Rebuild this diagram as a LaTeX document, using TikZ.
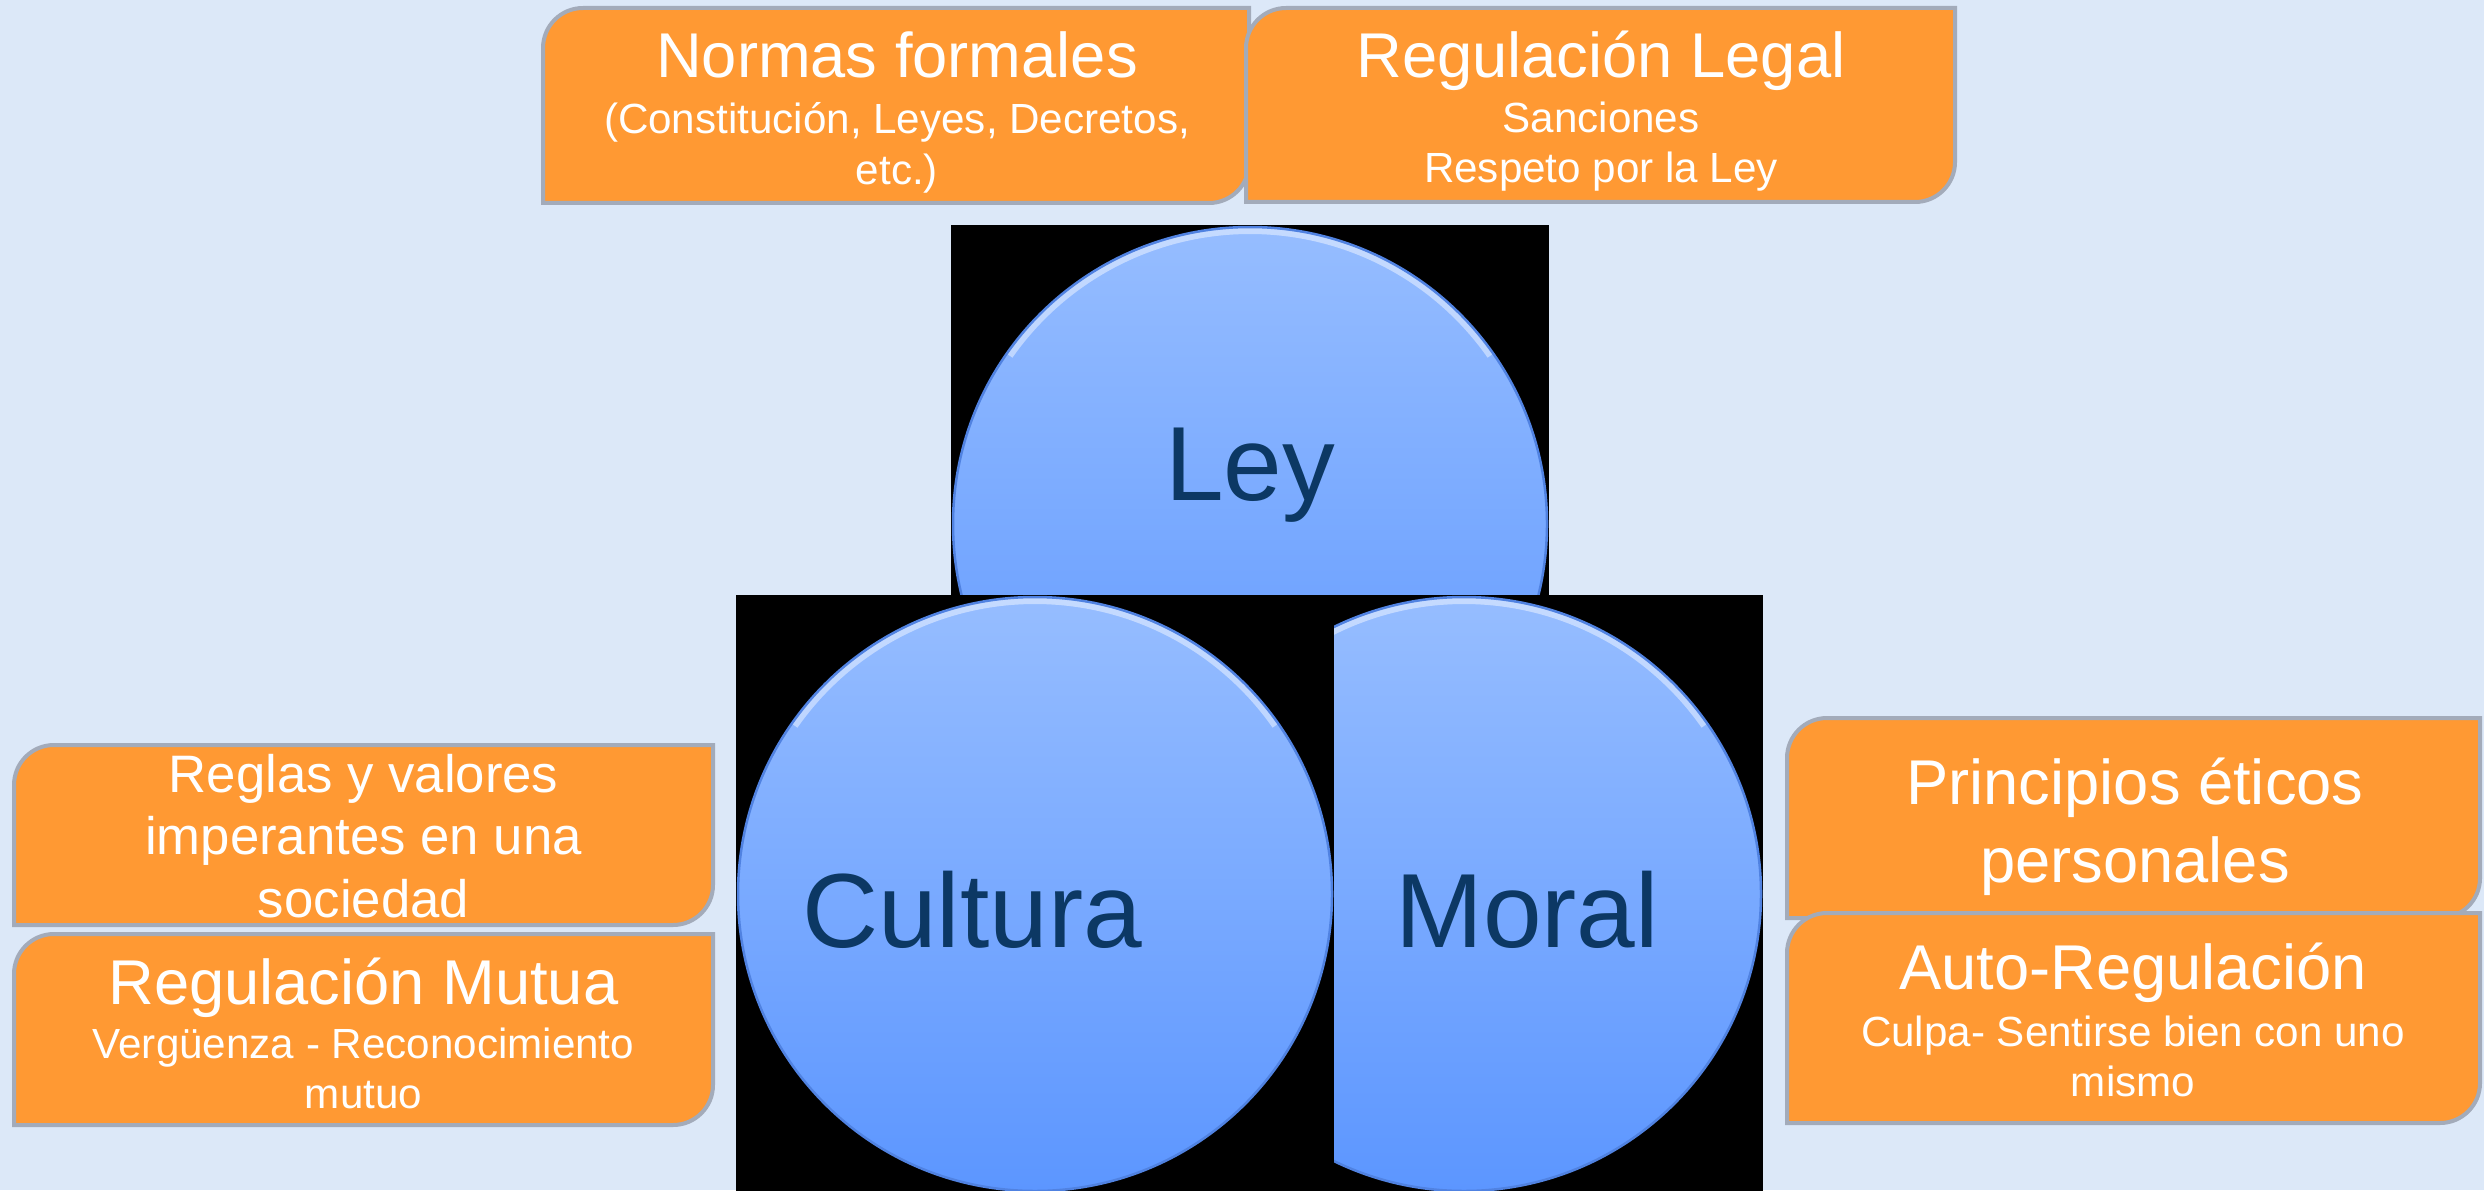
\documentclass[tikz,border=0pt]{standalone}
\usepackage{fontspec}
\setmainfont{Liberation Sans}
\usepackage{tikz}
\definecolor{fondo}{RGB}{220,232,248}
\definecolor{naranja}{RGB}{255,153,51}
\definecolor{gris}{RGB}{163,171,186}
\definecolor{azulclaro}{RGB}{150,189,255}
\definecolor{azuloscuro}{RGB}{92,150,255}
\definecolor{azulborde}{RGB}{80,130,225}
\definecolor{azultexto}{RGB}{12,56,100}
\tikzstyle{cuadro} = [rectangle, fill=black, minimum size=59.8mm, inner sep=0pt]
\tikzstyle{circulo} = [circle, minimum size=59.4mm, inner sep=0pt, top color=azulclaro, bottom color=azuloscuro, draw=azulborde, line width=0.25mm,
  path picture={\draw[white, opacity=.45, line width=0.6mm] ([shift={(145:29.3mm)}]path picture bounding box.center) arc[start angle=145, end angle=35, radius=29.3mm];}]
\tikzstyle{etiqueta} = [anchor=base, inner sep=0pt, text=azultexto, font=\fontsize{30}{36}\selectfont]
\tikzstyle{caja} = [rectangle, inner sep=0pt, outer sep=0pt]
\tikzstyle{borde} = [draw=gris, fill=naranja, line width=0.4mm]
\tikzstyle{texto} = [align=center, inner sep=0pt, text=white, font=\fontsize{12}{14.4}\selectfont]

\begin{document}
\begin{tikzpicture}[x=0.1mm, y=0.1mm]
% Fondo
\fill[fondo] (0,0) rectangle (2484,1190);
\useasboundingbox (0,0) rectangle (2484,1190);

% Circulos
\node (fondoley) [cuadro] at (1250,666) {};
\node (ley) [circulo] at (1250,666) {};
\node (fondomoral) [cuadro] at (1464,296) {};
\node (moral) [circulo] at (1464,296) {};
\node (fondocultura) [cuadro] at (1035,296) {};
\node (cultura) [circulo] at (1035,296) {};

\node (txtley) [etiqueta] at (1250,690) {Ley};
\node (txtcultura) [etiqueta] at (972,243) {Cultura};
\node (txtmoral) [etiqueta] at (1527,243) {Moral};

% Cajas
\node (normas) [caja, minimum width=70.6mm, minimum height=19.5mm] at (896,1084.5) {};
\node (legal) [caja, minimum width=70.9mm, minimum height=19.4mm] at (1600.5,1085) {};
\node (reglas) [caja, minimum width=69.9mm, minimum height=18mm] at (363.5,355) {};
\node (mutua) [caja, minimum width=69.9mm, minimum height=19.1mm] at (363.5,160.5) {};
\node (principios) [caja, minimum width=69.3mm, minimum height=20mm] at (2133.5,372) {};
\node (auto) [caja, minimum width=69.3mm, minimum height=21mm] at (2133.5,172) {};

\foreach \c in {normas,legal,reglas,mutua,principios,auto}
  \draw [borde] ([yshift=-4mm]\c.north west) arc[start angle=180, end angle=90, radius=4mm] -- (\c.north east)
    -- ([yshift=4mm]\c.south east) arc[start angle=0, end angle=-90, radius=4mm] -- (\c.south west) -- cycle;

% Textos
\node (txtnormas) [texto] at (897,1077.5) {{\fontsize{18}{21.6}\selectfont Normas formales}\\[1.4pt](Constitución, Leyes, Decretos,\\etc.)};
\node (txtlegal) [texto] at (1601,1079) {{\fontsize{18}{21.6}\selectfont Regulación Legal}\\[1.2pt]Sanciones\\Respeto por la Ley};
\node (txtreglas) [texto, font=\fontsize{15}{17.8}\selectfont] at (363.5,354) {Reglas y valores\\imperantes en una\\sociedad};
\node (txtmutua) [texto] at (363.5,156.5) {{\fontsize{18}{21.6}\selectfont Regulación Mutua}\\[1pt]Vergüenza - Reconocimiento\\mutuo};
\node (txtprincipios) [texto, font=\fontsize{18}{22.2}\selectfont] at (2135,363.5) {Principios éticos\\personales};
\node (txtauto) [texto] at (2133,170) {{\fontsize{18}{21.6}\selectfont Auto-Regulación}\\[1.8pt]Culpa- Sentirse bien con uno\\mismo};

\end{tikzpicture}
\end{document}
